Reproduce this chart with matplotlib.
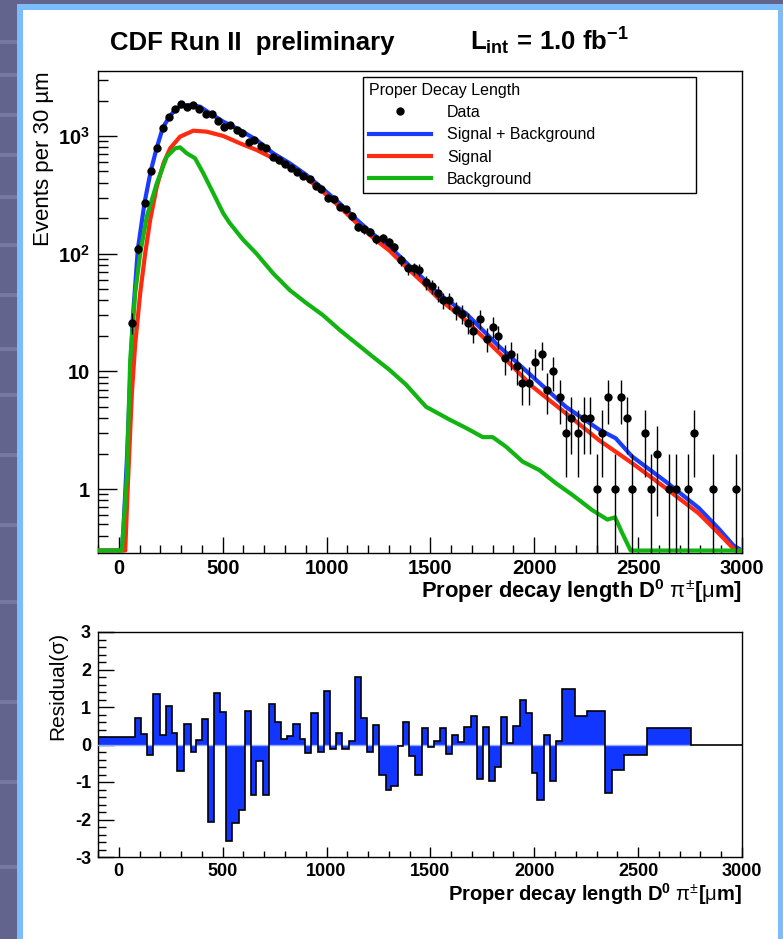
import numpy as np
import matplotlib.pyplot as plt
from matplotlib.patches import Rectangle
from matplotlib.lines import Line2D
from matplotlib.ticker import FixedLocator, FixedFormatter, MultipleLocator, LogLocator, NullFormatter

plt.rcParams['font.family'] = ['Liberation Sans', 'DejaVu Sans']
plt.rcParams['font.weight'] = 'bold'
plt.rcParams['axes.unicode_minus'] = False
plt.rcParams['mathtext.fontset'] = 'custom'
plt.rcParams['mathtext.rm'] = 'Liberation Sans:weight=normal'
plt.rcParams['mathtext.it'] = 'Liberation Sans:italic:weight=normal'
plt.rcParams['mathtext.bf'] = 'Liberation Sans:weight=bold'

# data points (bin centre in um, events per 30 um)
data_x = [66, 92, 124, 154, 182, 212, 242, 270, 298, 327, 359, 388, 418, 449, 478, 505, 537, 567, 594, 627,
          652, 683, 711, 742, 769, 799, 830, 857, 887, 919, 948, 975, 1006, 1034, 1063, 1092, 1122, 1151, 1180, 1211,
          1240, 1270, 1300, 1327, 1360, 1390, 1419, 1447, 1480, 1508, 1536,
          1559, 1591, 1624, 1651, 1683, 1707, 1739, 1771, 1800, 1827, 1861, 1888, 1916, 1943, 1975, 2004, 2035, 2063,
          2091, 2123, 2152, 2179, 2211, 2240, 2268, 2300, 2327, 2356, 2388, 2416, 2447, 2471, 2535, 2562, 2591, 2647,
          2682, 2738, 2771, 2859, 2973]
data_n = [26, 110, 271, 505, 785, 1176, 1442, 1687, 1858, 1763, 1833, 1687, 1529, 1529, 1341, 1186, 1234, 1125, 1054, 895,
          925, 822, 786, 659, 625, 575, 532, 492, 458, 429, 376, 355, 299, 290, 251, 238, 210, 170, 161, 154,
          133, 135, 125, 113, 88, 75, 75, 73, 57, 53, 46,
          40, 40, 33, 31, 26, 22, 28, 19, 24, 20, 13, 14, 11, 8, 8, 12, 14, 7,
          10, 6, 3, 4, 3, 4, 4, 1, 3, 6, 1, 6, 4, 1, 3, 1, 2, 1,
          1, 1, 3, 1, 1]

# fit curves
tot_x = [-100, 15, 23, 39, 52, 66, 92, 124, 154, 182, 212, 242, 270, 298, 343, 391, 439, 503, 583, 663, 743, 823,
         903, 983, 1063, 1143, 1223, 1303, 1383, 1463, 1536, 1672, 1832, 1992, 2152, 2312, 2392, 2471, 2632, 2792,
         2888, 2960, 3000]
tot_y = [0.1, 0.29, 0.48, 1.77, 6.5, 26, 110, 271, 505, 785, 1176, 1442, 1660, 1800, 1833, 1775, 1560, 1324, 1125,
         925, 713, 586, 467, 355, 268, 196, 147, 115, 84, 62, 46, 31, 16.2, 9.0, 5.0, 3.2, 2.7, 1.89, 1.16, 0.69,
         0.46, 0.33, 0.3]

sig_x = [-100, 31, 42, 63, 79, 103, 127, 151, 183, 215, 247, 295, 359, 423, 503, 583, 663, 743, 823, 903, 983,
         1063, 1143, 1223, 1303, 1383, 1463, 1536, 1672, 1832, 1992, 2152, 2312, 2471, 2632, 2792, 2888, 2968, 3000]
sig_y = [0.1, 0.29, 0.92, 6.5, 17, 46, 100, 193, 371, 586, 785, 987, 1109, 1088, 1000, 867, 761, 647, 542, 440,
         335, 250, 183, 137, 106, 77, 57, 42, 27, 14.3, 7.4, 4.4, 2.6, 1.66, 1.02, 0.62, 0.42, 0.3, 0.29]

bkg_x = [-100, 15, 39, 55, 79, 103, 135, 183, 231, 271, 295, 327, 367, 407, 455, 503, 535, 599, 663, 743, 823, 903,
         983, 1063, 1143, 1223, 1303, 1383, 1479, 1591, 1672, 1752, 1800, 1864, 1944, 2024, 2104, 2184, 2280, 2352,
         2389, 2424, 2464, 2490, 3000]
bkg_y = [0.1, 0.29, 1.28, 12.5, 46, 100, 207, 396, 667, 785, 801, 713, 647, 482, 326, 220, 181, 131, 100, 68, 49,
         38, 30, 22.5, 17.3, 13.3, 10.3, 7.7, 5.0, 3.9, 3.3, 2.76, 2.76, 2.29, 1.71, 1.45, 1.12, 0.89, 0.66, 0.55,
         0.575, 0.42, 0.3, 0.1, 0.1]

# residuals (sigma) in variable bins
res_edges = [-105, 79, 108, 135, 167, 199, 226, 255, 282, 314, 346, 371, 401, 430, 459, 489, 515, 547, 577, 606,
             635, 662, 694, 723, 753, 782, 811, 838, 870, 898, 926, 958, 986, 1018, 1047, 1074, 1106, 1135, 1164,
             1194, 1223, 1252, 1284, 1311, 1343, 1370, 1399, 1428, 1458, 1487,
             1519, 1547, 1576, 1604, 1635, 1663, 1696, 1724, 1751, 1780, 1812, 1840, 1871, 1900, 1931, 1960, 1987,
             2015, 2048, 2075, 2107, 2135, 2195, 2252, 2340, 2372, 2432, 2543, 2755, 3000]
res_vals = [0.20, 0.71, 0.28, -0.29, 1.35, 0.25, 1.03, 0.31, -0.70, 0.56, -0.20, 0.13, 0.69, -2.07, 1.38, 0.86,
            -2.56, -2.09, -1.74, 0.89, -1.35, -0.43, -1.35, 1.07, 0.59, 0.16, 0.22, 0.56, 0.16, -0.22, 0.83, -0.20,
            1.44, -0.11, 0.32, -0.11, 0.09, 1.79, 0.71, -0.20, 0.53, -0.80, -1.22, -1.11, -0.04, 0.59, -0.30, -0.80,
            0.45,
            -0.06, 0.10, 0.45, -0.26, 0.25, 0.07, 0.47, 0.77, -0.91, 0.47, -0.98, -0.60, 0.74, 0.04, 0.50, 1.20,
            0.83, -0.76, -1.47, 0.25, -0.98, 0.09, 1.47, 0.77, 0.89, -1.28, -0.69, -0.29, 0.43, 0.0]

BLUE = '#1a3cff'
RED = '#ff2a10'
GREEN = '#12b412'
W, H = 783, 939
XLABEL = r'$\mathbf{Proper\ decay\ length\ D^{0}}\ \mathrm{\pi^{\pm}}\mathbf{[}\mathrm{\mu}\mathbf{m]}$'

fig = plt.figure(figsize=(W / 100, H / 100), dpi=100, facecolor='#62648e')
# slide frame (drawn behind the axes)
for y0 in [40, 73, 113, 153, 195, 243, 293, 347, 393, 453, 523, 600, 700, 780, 865]:
    fig.add_artist(Rectangle((0, 1 - (y0 + 4) / H), 17 / W, 4 / H, color='#76789f', lw=0, zorder=-3))
fig.add_artist(Rectangle((17 / W, 0), 1, 1 - 4 / H, color='#7bbdfb', lw=0, zorder=-2))
fig.add_artist(Rectangle((23 / W, 0), (778 - 23) / W, 1 - 10 / H, color='white', lw=0, zorder=-1))

ax = fig.add_axes([98 / W, (H - 553) / H, 644 / W, 482 / H])
axr = fig.add_axes([98 / W, (H - 857) / H, 644 / W, 225 / H])

ymin = 0.286
floor = 0.30
ax.plot(tot_x, np.clip(tot_y, floor, None), color=BLUE, lw=3, zorder=2)
ax.plot(sig_x, np.clip(sig_y, floor, None), color=RED, lw=3, zorder=3)
ax.plot(bkg_x, np.clip(bkg_y, floor, None), color=GREEN, lw=3, zorder=4)

n = np.array(data_n, dtype=float)
err = np.sqrt(n)
eb = ax.errorbar(data_x, n, yerr=[np.minimum(err, n * 0.999), err], fmt='o', color='black', ms=5,
                 elinewidth=1, capsize=0, zorder=5)

ax.set_yscale('log')
ax.set_xlim(-100, 3000)
ax.set_ylim(ymin, 3566)
ax.yaxis.set_major_locator(FixedLocator([1, 10, 100, 1000]))
ax.yaxis.set_major_formatter(FixedFormatter(['1', '10', r'$\mathbf{10^{2}}$', r'$\mathbf{10^{3}}$']))
ax.yaxis.set_minor_locator(LogLocator(base=10, subs=np.arange(2, 10), numticks=20))
ax.yaxis.set_minor_formatter(NullFormatter())
ax.xaxis.set_major_locator(MultipleLocator(500))
ax.xaxis.set_minor_locator(MultipleLocator(100))
ax.tick_params(which='both', direction='in', top=False, right=False, width=1, labelsize=14.5)
ax.tick_params(axis='y', which='major', length=14, pad=6)
ax.tick_params(axis='y', which='minor', length=7)
ax.tick_params(axis='x', which='major', length=11.5, pad=4)
ax.tick_params(axis='x', which='minor', length=6)
for s in ax.spines.values():
    s.set_linewidth(1.0)

ax.set_xlabel(XLABEL, fontsize=15.8, loc='right')
ax.xaxis.set_label_coords(1.0, -0.05)
ax.set_ylabel('Events per 30 µm', fontsize=16, fontweight='normal', loc='top')
ax.yaxis.set_label_coords(-0.068, 1.0)

handles = [eb.lines[0],
           Line2D([], [], color=BLUE, lw=3),
           Line2D([], [], color=RED, lw=3),
           Line2D([], [], color=GREEN, lw=3)]
labels = ['Data', 'Signal + Background', 'Signal', 'Background']
leg = ax.legend(handles, labels, title='Proper Decay Length', loc='upper left',
                bbox_to_anchor=(0.4115, 0.5, 0.5171, 0.4876), mode='expand', borderaxespad=0,
                fancybox=False, edgecolor='black', framealpha=1, prop={'size': 11.5, 'weight': 'normal'},
                title_fontproperties={'size': 11.5, 'weight': 'normal'}, handlelength=3.9,
                handletextpad=1.0, labelspacing=0.46, borderpad=0.35, alignment='left')
leg.get_frame().set_linewidth(1.0)

# residual panel
axr.stairs(res_vals, res_edges, fill=True, color='#1036ff', baseline=0, zorder=2)
axr.hlines(0, res_edges[0], res_edges[-2], color='#8ea6ff', lw=1, zorder=3)
axr.stairs(res_vals, res_edges, baseline=None, color='black', lw=1.2, zorder=4)
axr.set_xlim(-100, 3000)
axr.set_ylim(-3, 3)
axr.xaxis.set_major_locator(MultipleLocator(500))
axr.xaxis.set_minor_locator(MultipleLocator(100))
axr.yaxis.set_major_locator(MultipleLocator(1))
axr.yaxis.set_minor_locator(MultipleLocator(0.2))
axr.tick_params(which='both', direction='in', top=False, right=False, width=1, labelsize=13)
axr.tick_params(axis='y', which='major', length=11.5, pad=5)
axr.tick_params(axis='y', which='minor', length=6)
axr.tick_params(axis='x', which='major', length=7, pad=4)
axr.tick_params(axis='x', which='minor', length=4)
for s in axr.spines.values():
    s.set_linewidth(1.0)
axr.set_xlabel(XLABEL, fontsize=14.5, loc='right')
axr.xaxis.set_label_coords(1.0, -0.105)
axr.set_ylabel('Residual(σ)', fontsize=15, fontweight='normal', loc='top')
axr.yaxis.set_label_coords(-0.048, 1.0)

fig.text(110 / W, 1 - 50 / H, 'CDF Run II  preliminary', fontsize=18.5, va='baseline')
fig.text(470 / W, 1 - 50 / H, r'$\mathbf{L_{int}\,=\,1.0\ fb^{-1}}$', fontsize=18.5, va='baseline')

fig.savefig('out.png', dpi=100, facecolor=fig.get_facecolor())
